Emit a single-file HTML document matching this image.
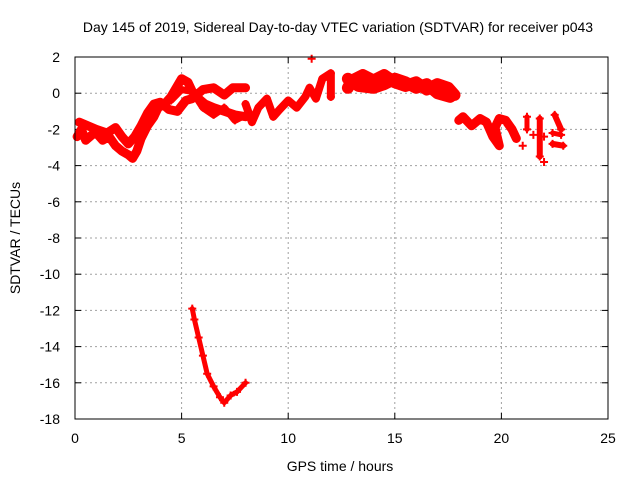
<!DOCTYPE html>
<html><head><meta charset="utf-8"><style>
html,body{margin:0;padding:0;background:#fff}
svg{display:block;font-family:"Liberation Sans",sans-serif}
</style></head><body>
<svg id="chart" width="640" height="480">
<text x="338" y="32" font-size="14" text-anchor="middle">Day 145 of 2019, Sidereal Day-to-day VTEC variation (SDTVAR) for receiver p043</text>
<text x="340" y="471" font-size="14" text-anchor="middle">GPS time / hours</text>
<text transform="translate(20,238) rotate(-90)" font-size="14" text-anchor="middle">SDTVAR / TECUs</text>
<g id="grid"></g><g id="ticks"></g><g id="marks"></g>
<rect x="75" y="57" width="533" height="362" fill="none" stroke="#000" stroke-width="1"/>
</svg>
<script>
const xTicks=[0,5,10,15,20,25];
const yTicks=[2,0,-2,-4,-6,-8,-10,-12,-14,-16,-18];
const traceA=[[0.1,-2.4],[0.3,-2],[0.5,-2.6],[0.8,-2.3],[1,-2.2],[1.3,-2.6],[1.6,-2.4],[1.9,-2.9],[2.2,-3.2],[2.5,-3.4],[2.7,-3.6],[2.9,-3.2],[3.1,-2.5],[3.4,-1.8],[3.7,-1.3],[3.9,-0.8],[4.2,-0.6],[4.5,-0.2],[4.8,0.4],[5,0.8],[5.3,0.6],[5.5,0.1],[5.8,-0.3],[6.1,-0.6],[6.5,-0.8],[7,-1],[7.5,-1.2],[8,-1.3]];
const traceB=[[0.2,-1.6],[0.6,-1.8],[1,-2],[1.5,-2.2],[1.9,-1.9],[2.2,-2.4],[2.5,-2.8],[2.8,-2.4],[3.1,-1.8],[3.4,-1.1],[3.7,-0.6],[4,-0.5],[4.4,-0.9],[4.8,-1],[5.2,-0.4],[5.5,-0.3],[6,0.2],[6.5,0.3],[7,-0.1],[7.4,0.3],[8,0.3]];
const traceC=[[4.5,-0.4],[5,0.2],[5.5,0.1],[6,-0.8],[6.5,-1.2],[7,-0.8],[7.5,-1.5],[8,-1.2]];
const traceD=[[8,-0.6],[8.3,-1.6],[8.6,-0.8],[9,-0.3],[9.3,-1.3],[9.6,-0.9],[10,-0.4],[10.4,-0.8],[10.8,-0.2],[11,0.3],[11.3,-0.3],[11.6,0.8],[12,1.1],[12,-0.2]];
const traceE=[[12.8,0.3],[13,0.7],[13.5,1],[14,0.7],[14.5,1],[15,0.6],[15.5,0.4],[16,0.6],[16.5,0.2],[17,0.5],[17.5,0.3],[17.8,-0.1]];
const traceF=[[12.8,0.8],[13.3,0.4],[14,0.3],[14.5,0.5],[15,0.8],[15.5,0.6],[16,0.3],[16.5,0.5],[17,0],[17.6,-0.2]];
const traceG=[[18,-1.5],[18.2,-1.3],[18.6,-1.8],[19,-1.4],[19.3,-1.6],[19.6,-2.4],[19.9,-2.9],[19.7,-1.9],[19.9,-1.4],[20.2,-1.5],[20.5,-2],[20.7,-2.5]];
const traceH=[[5.5,-11.9],[5.6,-12.5],[5.8,-13.5],[6,-14.5],[6.2,-15.5],[6.5,-16.2],[6.8,-16.8],[7,-17.1],[7.3,-16.7],[7.6,-16.5],[8,-16]];
const traceI=[[21.2,-1.3],[21.2,-2]];
const traceJ=[[21.8,-1.4],[21.8,-3.5]];
const traceK=[[22.5,-1.2],[22.8,-2]];
const traceL=[[22.4,-2.8],[22.9,-2.9]];
const traceM=[[22.4,-2.2],[22.8,-2.3]];
const singles=[[11.1,1.9],[21,-2.9],[22,-3.8],[22,-2.4],[21.5,-2.3]];
const traces=[traceA,traceB,traceC,traceD,traceE,traceF,traceG,traceH,traceI,traceJ,traceK,traceL,traceM];
const widths=[9,9,7,8,12,12,9,5,5,6,6,6,5];

const NS="http://www.w3.org/2000/svg";
const X0=75,X1=608,Y0=419,Y1=57;
const xs=v=>X0+(v-0)/(25-0)*(X1-X0);
const ys=v=>Y0-(v+18)/(2+18)*(Y0-Y1);
function mk(t,a,p){const e=document.createElementNS(NS,t);for(const k in a)e.setAttribute(k,a[k]);p.appendChild(e);return e;}
const grid=document.getElementById('grid'),ticks=document.getElementById('ticks'),marks=document.getElementById('marks');
xTicks.forEach(v=>{const x=xs(v);
 if(v>0&&v<25){const g=mk('line',{x1:x,x2:x,y1:Y1,y2:Y0,stroke:'#a0a0a0','stroke-dasharray':'2,3','stroke-width':1},grid);
 
 }
 mk('line',{x1:x,x2:x,y1:Y0,y2:Y0-6,stroke:'#000'},ticks);mk('line',{x1:x,x2:x,y1:Y1,y2:Y1+6,stroke:'#000'},ticks);
 const t=mk('text',{x:x,y:443,'font-size':14,'text-anchor':'middle'},ticks);t.textContent=v;
 
 });
yTicks.forEach(v=>{const y=ys(v);
 if(v>-18&&v<2){const g=mk('line',{x1:X0,x2:X1,y1:y,y2:y,stroke:'#a0a0a0','stroke-dasharray':'2,3','stroke-width':1},grid);
 
 }
 mk('line',{x1:X0,x2:X0+6,y1:y,y2:y,stroke:'#000'},ticks);mk('line',{x1:X1,x2:X1-6,y1:y,y2:y,stroke:'#000'},ticks);
 const t=mk('text',{x:X0-15,y:y+5,'font-size':14,'text-anchor':'end'},ticks);t.textContent=v;
 
 });
function plus(x,y){const p=mk('path',{d:`M${x-4},${y}h8M${x},${y-4}v8`,stroke:'#f00','stroke-width':2},marks);
 
 }
traces.forEach((tr,i)=>{
 const pl=mk('polyline',{points:tr.map(d=>xs(d[0])+','+ys(d[1])).join(' '),fill:'none',stroke:'#f00','stroke-width':widths[i],'stroke-linejoin':'round','stroke-linecap':'round'},marks);
 
 
 tr.forEach(d=>plus(xs(d[0]),ys(d[1])));});
singles.forEach(d=>plus(xs(d[0]),ys(d[1])));
</script>
</body></html>
